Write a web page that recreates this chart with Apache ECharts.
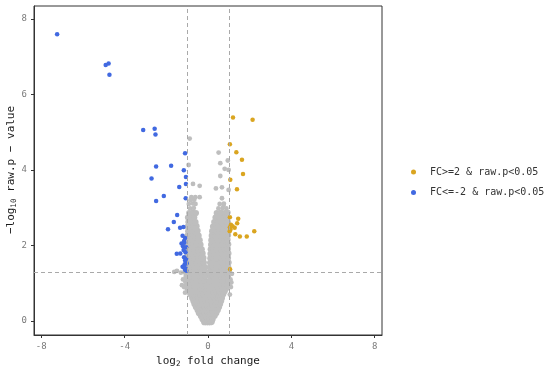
<!DOCTYPE html>
<html><head><meta charset="utf-8">
<script src="https://cdn.jsdelivr.net/npm/echarts@6/dist/echarts.min.js"></script>
<style>html,body{margin:0;padding:0;background:#fff}#c{width:550px;height:373px}</style>
</head><body><div id="c"></div>
<script>
const xTicks = [-8, -4, 0, 4, 8];
const yTicks = [0, 2, 4, 6, 8];
const vLines = [-1, 1];
const hLine = 1.301;
const legendNames = ['FC>=2 & raw.p<0.05', 'FC<=-2 & raw.p<0.05'];
const yTitle = '\u2212log{s|10} raw.p \u2212 value';
const xTitle = 'log{s|2} fold change';

const upData = [
[1.20,5.39],[2.14,5.33],[1.05,4.68],[1.36,4.47],[1.63,4.27],[1.68,3.89],[1.07,3.74],[1.39,3.49],
[1.05,2.75],[1.45,2.71],[1.40,2.59],[1.10,2.55],[1.05,2.48],[1.18,2.51],[1.08,2.42],[1.04,2.38],
[1.28,2.47],[1.31,2.30],[1.53,2.24],[1.86,2.24],[2.22,2.38],[1.06,1.37]
];
const downData = [
[-7.24,7.59],[-4.91,6.78],[-4.77,6.82],[-4.73,6.52],
[-3.11,5.06],[-2.56,5.09],[-2.52,4.94],[-1.10,4.44],
[-2.49,4.09],[-1.77,4.11],[-1.16,3.99],[-2.71,3.77],[-1.06,3.81],
[-1.38,3.55],[-1.06,3.63],[-2.12,3.31],[-2.49,3.18],[-1.07,3.25],
[-1.48,2.81],[-1.64,2.62],[-1.34,2.47],[-1.18,2.49],[-1.92,2.43],
[-1.22,2.26],[-1.10,2.20],[-1.15,2.12],[-1.27,2.05],[-1.14,2.07],[-1.20,1.98],[-1.05,1.95],
[-1.17,1.88],[-1.08,1.82],[-1.50,1.78],[-1.33,1.79],[-1.15,1.69],[-1.10,1.60],[-1.05,1.65],
[-1.12,1.50],[-1.02,1.53],[-1.22,1.44],[-1.07,1.39],[-1.15,1.42],[-1.04,1.33],[-1.10,1.36]
];
// dense core of non-significant genes
const nsCore = [
[-0.18,-0.03],[-0.08,-0.03],[0.02,-0.03],[0.12,-0.03],[0.18,-0.02],
[-0.26,0.05],[-0.14,0.05],[-0.02,0.05],[0.1,0.05],[0.22,0.05],
[-0.34,0.13],[-0.22,0.13],[-0.1,0.13],[0.02,0.13],[0.14,0.13],[0.26,0.13],[0.32,0.14],
[-0.44,0.21],[-0.3,0.21],[-0.16,0.21],[-0.02,0.21],[0.12,0.21],[0.26,0.21],[0.4,0.21],
[-0.5,0.29],[-0.36,0.29],[-0.22,0.29],[-0.08,0.29],[0.06,0.29],[0.2,0.29],[0.34,0.29],[0.47,0.29],
[-0.58,0.37],[-0.44,0.37],[-0.3,0.37],[-0.16,0.37],[-0.02,0.37],[0.12,0.37],[0.26,0.37],[0.4,0.37],[0.53,0.37],
[-0.65,0.45],[-0.5,0.45],[-0.36,0.45],[-0.22,0.45],[-0.08,0.45],[0.06,0.45],[0.2,0.45],[0.34,0.45],[0.48,0.45],[0.58,0.45],
[-0.7,0.53],[-0.56,0.53],[-0.42,0.53],[-0.28,0.53],[-0.14,0.53],[0.0,0.53],[0.14,0.53],[0.28,0.53],[0.42,0.53],[0.55,0.53],[0.63,0.53],
[-0.76,0.61],[-0.62,0.61],[-0.48,0.61],[-0.34,0.61],[-0.2,0.61],[-0.07,0.61],[0.04,0.61],[0.18,0.61],[0.32,0.61],[0.46,0.61],[0.58,0.61],[0.67,0.61],
[-0.84,0.7],[-0.68,0.71],[-0.52,0.7],[-0.36,0.71],[-0.2,0.7],[-0.07,0.71],[0.05,0.7],[0.2,0.71],[0.35,0.7],[0.5,0.71],[0.63,0.7],[0.73,0.71],
[-0.92,0.78],[-0.76,0.79],[-0.6,0.78],[-0.44,0.79],[-0.28,0.78],[-0.1,0.79],[0.06,0.78],[0.24,0.79],[0.4,0.78],[0.55,0.79],[0.68,0.78],[0.8,0.79],
[-0.98,0.86],[-0.82,0.87],[-0.66,0.86],[-0.5,0.87],[-0.34,0.86],[-0.18,0.87],[-0.08,0.86],[0.06,0.87],[0.18,0.86],[0.34,0.87],[0.5,0.86],[0.65,0.87],[0.78,0.86],[0.88,0.87],
[-1.02,0.94],[-0.84,0.95],[-0.64,0.94],[-0.44,0.95],[-0.26,0.94],[-0.1,0.95],[0.06,0.94],[0.22,0.95],[0.42,0.94],[0.62,0.95],[0.8,0.94],[0.95,0.95],
[-1.06,1.06],[-0.92,1.07],[-0.74,1.06],[-0.54,1.07],[-0.34,1.06],[-0.14,1.07],[0.08,1.06],[0.3,1.07],[0.5,1.06],[0.7,1.07],[0.88,1.06],[0.99,1.07],
[-1.03,1.18],[-0.84,1.19],[-0.64,1.18],[-0.44,1.19],[-0.26,1.18],[-0.12,1.19],[0.1,1.18],[0.22,1.19],[0.42,1.18],[0.62,1.19],[0.8,1.18],[0.96,1.19],
[-1.08,1.3],[-0.92,1.31],[-0.74,1.3],[-0.54,1.31],[-0.34,1.3],[-0.15,1.31],[0.08,1.3],[0.3,1.31],[0.5,1.3],[0.7,1.31],[0.88,1.3],[1.0,1.31],
[-1.04,1.42],[-0.84,1.43],[-0.64,1.42],[-0.44,1.43],[-0.26,1.42],[-0.15,1.43],[0.09,1.42],[0.22,1.43],[0.42,1.42],[0.62,1.43],[0.8,1.42],[0.97,1.43],
[-1.0,1.54],[-0.9,1.55],[-0.74,1.54],[-0.56,1.55],[-0.38,1.54],[-0.2,1.55],[0.1,1.54],[0.3,1.55],[0.5,1.54],[0.7,1.55],[0.88,1.54],[0.99,1.55],
[-0.98,1.66],[-0.84,1.67],[-0.66,1.66],[-0.48,1.67],[-0.3,1.66],[-0.22,1.67],[0.11,1.66],[0.22,1.67],[0.42,1.66],[0.62,1.67],[0.8,1.66],[0.96,1.67],
[-0.99,1.78],[-0.9,1.79],[-0.74,1.78],[-0.56,1.79],[-0.4,1.78],[-0.26,1.79],[0.12,1.78],[0.3,1.79],[0.5,1.78],[0.7,1.79],[0.88,1.78],[0.98,1.79],
[-0.97,1.9],[-0.84,1.91],[-0.66,1.9],[-0.48,1.91],[-0.3,1.9],[0.13,1.9],[0.24,1.91],[0.42,1.9],[0.62,1.91],[0.8,1.9],[0.95,1.91],
[-0.98,2.02],[-0.88,2.03],[-0.72,2.02],[-0.54,2.03],[-0.36,2.02],[0.15,2.02],[0.3,2.03],[0.5,2.02],[0.7,2.03],[0.86,2.02],[0.97,2.03],
[-0.96,2.14],[-0.82,2.15],[-0.64,2.14],[-0.48,2.15],[-0.4,2.14],[0.16,2.14],[0.26,2.15],[0.44,2.14],[0.62,2.15],[0.8,2.14],[0.94,2.15],
[-0.98,2.26],[-0.88,2.27],[-0.72,2.26],[-0.56,2.27],[-0.45,2.26],[0.18,2.26],[0.34,2.27],[0.52,2.26],[0.7,2.27],[0.86,2.26],[0.96,2.27],
[-0.95,2.38],[-0.8,2.39],[-0.64,2.38],[-0.5,2.39],[0.2,2.38],[0.36,2.39],[0.54,2.38],[0.72,2.39],[0.88,2.38],[0.97,2.39],
[-0.97,2.5],[-0.86,2.51],[-0.7,2.5],[-0.55,2.51],[0.24,2.5],[0.42,2.51],[0.6,2.5],[0.78,2.51],[0.94,2.5],
[-0.94,2.62],[-0.78,2.63],[-0.6,2.62],[0.3,2.62],[0.48,2.63],[0.66,2.62],[0.84,2.63],[0.95,2.62],
[-0.96,2.74],[-0.82,2.75],[-0.66,2.74],[0.36,2.74],[0.55,2.75],[0.72,2.74],[0.9,2.75],
[-0.9,2.86],[-0.72,2.87],[-0.58,2.86],[0.42,2.86],[0.62,2.87],[0.8,2.86],[0.94,2.87]
];
// scattered non-significant genes
const nsSparse = [
[-0.86,2.98],[-0.68,2.99],[0.5,2.98],[0.7,2.99],[0.88,2.98],
[-0.92,3.1],[-0.72,3.11],[-0.6,3.1],[0.56,3.1],[0.76,3.11],
[-0.84,3.2],[-0.66,3.21],[0.67,3.25],[0.75,3.07],
[-0.8,3.28],[-0.61,3.28],[-0.4,3.28],[-0.72,3.63],[-0.4,3.58],[0.38,3.51],[0.67,3.54],[0.99,3.47],
[0.59,3.84],[0.8,4.03],[0.99,4.0],[0.95,4.25],[0.59,4.18],[0.51,4.46],[-0.88,4.83],[-0.93,4.13],
[-1.62,1.30],[-1.49,1.33],[-1.3,1.28],[-1.2,1.1],[-1.15,0.9],[-1.1,0.75],[-1.25,0.95],
[1.08,1.1],[1.1,0.9],[1.05,0.7],[1.15,1.25],[1.12,1.02]
];

const mono = 'DejaVu Sans Mono';
const chart = echarts.init(document.getElementById('c'));
chart.setOption({
  animation: false,
  backgroundColor: '#ffffff',
  grid: {left: 34, right: 168, top: 6, bottom: 38, outerBoundsMode: 'none', containLabel: false, show: true, borderColor: '#333', borderWidth: 1, backgroundColor: 'transparent'},
  legend: {
    orient: 'vertical', left: 406, top: 161, itemGap: 8.5,
    itemWidth: 5, itemHeight: 5, icon: 'circle',
    data: legendNames,
    textStyle: {fontFamily: mono, fontSize: 10, color: '#333', lineHeight: 12, padding: [0,0,0,9]}
  },
  graphic: [{
    type: 'text', x: 11, y: 170, rotation: Math.PI / 2, silent: true,
    style: {
      text: yTitle, align: 'center', verticalAlign: 'middle',
      fontFamily: mono, fontSize: 11, fill: '#1a1a1a',
      rich: {s: {fontFamily: mono, fontSize: 7.5, fill: '#1a1a1a', padding: [6,0,0,0]}}
    }
  }],
  xAxis: {
    type: 'value', min: -8.35, max: 8.35,
    name: xTitle, nameLocation: 'middle', nameGap: 19,
    nameTextStyle: {fontFamily: mono, fontSize: 11, color: '#1a1a1a', rich: {s: {fontFamily: mono, fontSize: 7.5, color: '#1a1a1a', verticalAlign: 'bottom', padding: [6,0,0,0]}}},
    axisLine: {show: true, onZero: false, lineStyle: {color: '#333', width: 1}},
    axisTick: {show: true, length: 3, customValues: xTicks, lineStyle: {color: '#333'}},
    axisLabel: {customValues: xTicks, fontFamily: mono, fontSize: 9, color: '#7a7a7a', margin: 7},
    splitLine: {show: false}
  },
  yAxis: {
    type: 'value', min: -0.37, max: 8.34,
    axisLine: {show: true, onZero: false, lineStyle: {color: '#333', width: 1}},
    axisTick: {show: true, length: 3, customValues: yTicks, lineStyle: {color: '#333'}},
    axisLabel: {customValues: yTicks, fontFamily: mono, fontSize: 9, color: '#7a7a7a', margin: 7},
    splitLine: {show: false}
  },
  series: [
    {
      type: 'scatter', name: 'lines', data: [], z: 1, silent: true,
      markLine: {
        silent: true, symbol: 'none', animation: false,
        label: {show: false},
        lineStyle: {color: '#a9a9a9', type: [4, 3], width: 1},
        data: [{xAxis: vLines[0]}, {xAxis: vLines[1]}, {yAxis: hLine}]
      }
    },
    {type: 'scatter', name: 'NS', data: nsCore, symbolSize: 6.2, z: 2, itemStyle: {color: '#bebebe', opacity: 1}},
    {type: 'scatter', name: 'NS2', data: nsSparse, symbolSize: 4.8, z: 2, itemStyle: {color: '#bebebe', opacity: 1}},
    {type: 'scatter', name: legendNames[1], data: downData, symbolSize: 4.5, z: 3, itemStyle: {color: '#4169e1', opacity: 1}},
    {type: 'scatter', name: legendNames[0], data: upData, symbolSize: 4.5, z: 3, itemStyle: {color: '#daa520', opacity: 1}}
  ]
});
</script></body></html>
